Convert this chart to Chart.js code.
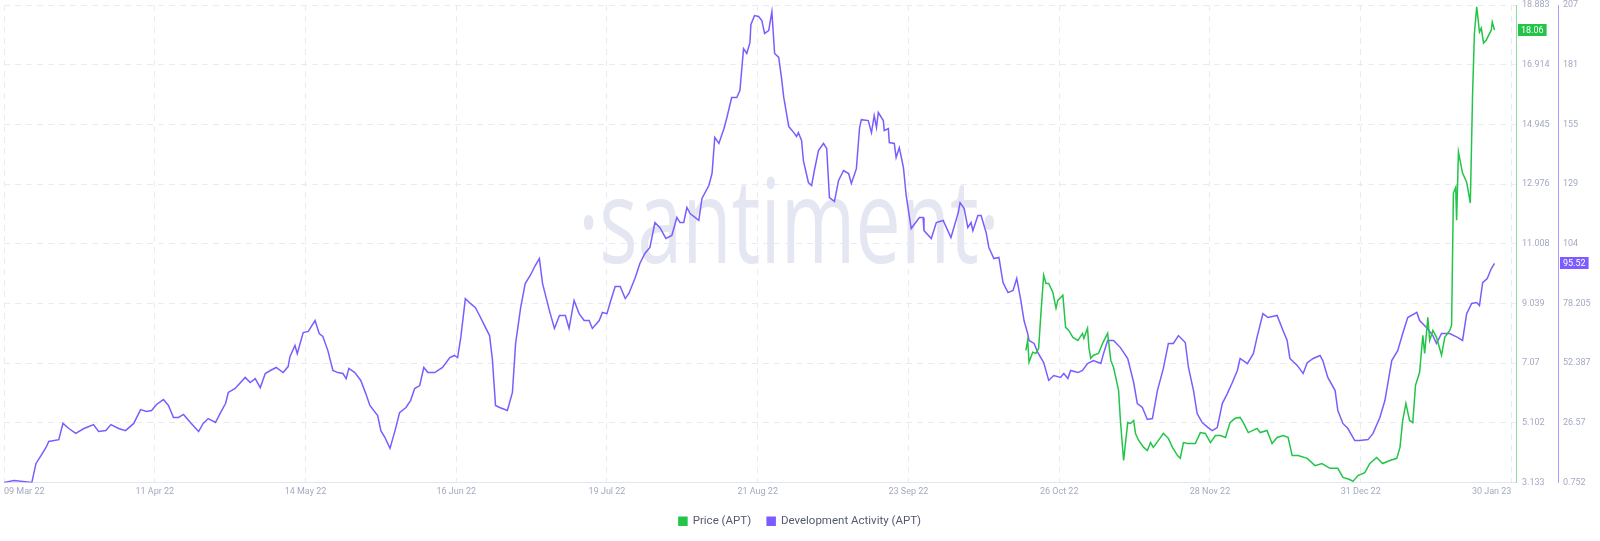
<!DOCTYPE html>
<html>
<head>
<meta charset="utf-8">
<script src="https://cdn.jsdelivr.net/npm/chart.js@4.4.0/dist/chart.umd.min.js"></script>
<style>
html,body{margin:0;padding:0;background:#ffffff;}
#wrap{width:1600px;height:541px;}
</style>
</head>
<body>
<div id="wrap"><canvas id="c" width="1600" height="541"></canvas></div>
<script>
// X axis: days since 09 Mar 22
const xTickDays = [0, 33, 66, 99, 132, 165, 198, 231, 264, 297, 330];
const xTickLabels = ['09 Mar 22','11 Apr 22','14 May 22','16 Jun 22','19 Jul 22','21 Aug 22','23 Sep 22','26 Oct 22','28 Nov 22','31 Dec 22','30 Jan 23'];

const priceTickValues = [3.133, 5.102, 7.07, 9.039, 11.008, 12.976, 14.945, 16.914, 18.883];
const priceTickLabels = ['3.133','5.102','7.07','9.039','11.008','12.976','14.945','16.914','18.883'];
const devTickValues = [0.752, 26.57, 52.387, 78.205, 103.99, 129.84, 155.66, 181.47, 207.29];
const devTickLabels = ['0.752','26.57','52.387','78.205','104','129','155','181','207'];

// Development Activity (APT): [day, value]
const devActivity = [[0,0.8],[2.2,1.6],[6.1,0.8],[7.0,9.0],[8.1,12.4],[9.2,15.9],[9.8,18.5],[12.0,19.3],[12.9,26.3],[14.2,24.1],[15.7,22.0],[17.5,24.1],[18.6,25.0],[19.6,25.8],[20.7,22.8],[22.3,23.2],[23.4,25.8],[25.1,24.1],[26.6,23.2],[28.4,26.3],[29.9,32.3],[31.2,31.5],[32.3,31.9],[33.4,34.5],[34.9,36.6],[36.0,34.1],[37.1,28.9],[38.2,28.9],[39.3,30.2],[40.8,26.7],[42.6,22.8],[43.6,26.3],[44.7,28.4],[46.3,26.7],[47.4,31.0],[48.5,34.9],[49.1,39.7],[50.6,41.4],[52.8,46.2],[53.9,44.0],[55.0,45.7],[56.1,41.8],[57.2,47.9],[58.3,49.2],[59.6,50.5],[61.1,48.3],[62.2,50.9],[62.6,55.2],[63.7,60.0],[64.2,56.5],[65.5,65.6],[66.6,66.1],[68.1,70.8],[69.0,65.2],[69.8,63.9],[70.9,57.8],[72.0,49.2],[73.1,48.3],[74.2,47.9],[74.9,45.7],[75.5,50.1],[76.8,48.3],[78.1,44.9],[79.2,39.2],[80.1,34.1],[81.8,29.7],[82.5,23.2],[83.4,20.2],[84.5,15.5],[85.6,23.2],[86.6,31.0],[88.0,33.2],[89.0,36.2],[89.9,41.4],[91.0,42.7],[91.9,50.5],[92.8,48.3],[94.3,48.3],[96.0,50.5],[97.6,54.8],[98.6,55.7],[99.3,54.8],[100.0,63.5],[101.0,80.3],[102.1,78.2],[103.2,76.4],[104.1,73.0],[105.2,68.6],[106.3,64.3],[106.9,54.4],[107.6,34.1],[108.5,33.2],[110.2,31.9],[111.3,39.7],[112.0,60.9],[113.1,76.4],[114.1,86.8],[115.2,90.3],[116.3,94.6],[117.2,97.6],[117.9,86.8],[119.4,75.1],[120.5,67.4],[121.6,73.0],[122.9,73.0],[123.7,67.4],[124.8,79.5],[125.9,73.8],[127.0,70.8],[128.1,70.8],[128.8,67.4],[130.3,70.8],[131.0,74.3],[132.0,73.8],[132.7,78.6],[133.8,85.5],[134.9,85.5],[136.0,80.3],[136.8,82.5],[138.2,89.4],[139.2,95.5],[140.3,99.8],[141.4,102.4],[142.5,113.2],[143.6,111.0],[144.9,106.3],[146.2,107.6],[147.3,115.4],[148.0,113.2],[148.8,113.2],[149.5,119.7],[150.2,117.1],[152.1,114.1],[152.8,123.6],[154.3,129.2],[155.0,134.4],[155.6,150.0],[156.5,147.4],[157.6,153.8],[158.2,158.2],[159.3,167.3],[160.4,167.3],[161.1,170.3],[161.9,188.4],[162.6,186.3],[163.3,191.0],[163.5,198.8],[164.3,202.7],[165.2,202.3],[165.9,200.6],[166.5,195.0],[167.4,196.2],[168.1,204.4],[168.7,186.3],[169.6,184.6],[170.2,175.9],[170.7,167.3],[171.8,154.7],[172.9,152.1],[173.5,150.4],[173.9,152.1],[174.6,148.7],[175.0,140.0],[176.1,130.5],[176.8,129.2],[177.4,135.7],[178.3,144.3],[179.4,147.4],[180.1,145.2],[180.7,124.0],[181.8,122.3],[182.7,131.4],[183.8,135.7],[184.9,134.4],[185.5,130.1],[186.6,136.5],[187.3,154.3],[187.7,157.7],[189.2,157.3],[189.9,152.1],[190.5,159.5],[191.0,154.3],[191.4,160.8],[192.5,157.3],[192.7,153.0],[193.6,153.8],[193.8,147.8],[194.9,147.4],[195.3,141.3],[196.0,145.6],[196.9,137.0],[197.5,124.9],[198.6,110.6],[200.4,115.4],[201.2,115.4],[201.4,109.7],[203.0,106.3],[204.1,113.2],[205.6,114.1],[207.3,106.7],[208.9,117.5],[209.3,121.8],[210.2,119.2],[211.0,111.0],[211.7,113.2],[212.1,109.7],[213.2,116.2],[213.9,116.2],[215.0,108.9],[215.6,102.4],[216.7,97.6],[217.8,98.1],[218.7,87.2],[219.8,82.9],[220.9,83.8],[221.7,89.0],[222.6,79.5],[223.3,70.8],[224.1,65.2],[224.4,62.2],[225.5,60.9],[226.3,57.0],[227.6,52.6],[228.7,44.9],[229.8,47.0],[231.3,46.2],[232.0,47.9],[232.9,45.7],[233.5,49.2],[235.1,48.3],[236.1,49.2],[237.2,52.2],[238.5,53.5],[240.1,52.2],[240.7,56.5],[241.6,62.2],[242.9,62.2],[244.4,59.1],[246.0,54.4],[247.3,44.0],[248.1,34.9],[249.2,33.2],[250.3,28.0],[251.4,28.4],[252.5,40.5],[253.8,50.1],[254.9,60.9],[256.0,60.9],[257.1,64.3],[258.6,61.3],[259.3,50.5],[260.4,40.5],[261.2,30.6],[262.3,26.7],[263.6,24.5],[264.5,23.2],[265.6,24.5],[266.7,34.9],[267.8,39.2],[268.9,44.0],[270.0,49.2],[270.6,54.4],[272.2,52.2],[273.5,56.5],[274.3,63.5],[275.6,73.8],[276.7,72.1],[278.7,73.0],[280.0,66.5],[280.9,62.2],[281.5,54.4],[283.1,51.4],[284.4,47.9],[285.3,52.6],[286.6,54.4],[288.1,55.7],[288.7,53.5],[289.8,46.2],[291.4,40.5],[292.0,31.9],[293.1,26.3],[294.2,24.1],[295.7,18.9],[296.8,18.9],[298.6,19.3],[299.7,22.0],[301.2,28.9],[302.3,36.2],[303.8,53.5],[305.1,57.8],[306.2,65.2],[307.3,72.1],[309.3,74.3],[309.9,70.8],[311.4,67.8],[312.8,64.3],[313.6,60.9],[314.7,65.2],[316.5,65.2],[318.2,63.5],[319.3,62.2],[320.2,73.8],[321.3,78.2],[322.4,78.6],[323.0,77.3],[323.7,87.2],[324.7,89.0],[325.6,93.3],[326.3,95.52]];

// Price (APT): [day, value]
const priceApt = [[223.7,7.49],[224.1,7.82],[224.4,7.10],[225.2,7.43],[225.9,7.39],[226.5,7.56],[227.0,8.71],[227.6,9.97],[228.1,9.70],[228.7,9.70],[229.6,9.41],[230.3,8.88],[230.7,9.14],[231.8,9.31],[232.4,8.25],[233.1,8.15],[234.0,7.92],[235.1,7.82],[236.1,8.05],[236.4,7.89],[237.2,8.22],[237.5,7.59],[237.9,7.23],[238.5,7.33],[239.6,7.39],[240.5,7.72],[241.6,8.05],[242.3,7.16],[242.9,6.93],[244.0,6.17],[244.4,5.18],[245.1,3.86],[246.0,5.11],[246.6,5.08],[247.3,5.18],[247.7,4.75],[248.4,4.52],[249.5,4.29],[250.3,4.19],[251.0,4.45],[251.6,4.29],[253.2,4.62],[253.8,4.75],[254.9,4.59],[255.8,4.29],[256.9,4.02],[257.5,3.93],[258.2,4.45],[259.1,4.42],[260.8,4.42],[261.9,4.78],[263.0,4.75],[264.1,4.45],[265.2,4.68],[266.3,4.68],[267.4,4.62],[268.4,5.11],[269.5,5.25],[270.6,5.28],[271.3,5.11],[272.4,4.78],[274.3,4.92],[275.0,4.78],[276.5,4.85],[277.6,4.42],[278.7,4.62],[280.0,4.68],[281.1,4.62],[282.0,4.02],[283.3,4.02],[285.3,3.93],[287.0,3.69],[288.5,3.76],[290.3,3.60],[292.0,3.60],[293.1,3.30],[294.6,3.23],[295.3,3.17],[296.4,3.36],[297.9,3.46],[299.0,3.76],[300.5,3.96],[301.8,3.76],[303.4,3.86],[304.9,3.93],[305.6,4.29],[306.2,5.18],[306.9,5.74],[307.7,5.18],[308.4,5.11],[309.0,6.34],[309.9,6.77],[310.6,7.99],[311.0,7.39],[311.7,8.58],[312.1,7.82],[312.8,8.15],[313.6,7.92],[314.7,7.33],[315.4,7.92],[316.5,8.15],[316.9,8.32],[317.3,12.68],[317.8,12.87],[318.0,11.78],[318.4,14.03],[319.3,13.34],[320.2,13.04],[321.0,12.35],[321.5,15.98],[321.9,17.96],[322.4,18.82],[323.0,17.99],[323.4,18.12],[323.9,17.63],[324.5,17.73],[325.6,18.06],[325.8,18.32],[326.3,18.06]];

const GREEN = '#22c548';
const PURPLE = '#7c5cff';
const TICK_COLOR = '#a3a9c2';
const GRID_COLOR = '#e8eaf4';
const tickFont = {family: 'Roboto', size: 9};

const watermark = {
  id: 'watermark',
  beforeDatasetsDraw(chart) {
    const ctx = chart.ctx;
    ctx.save();
    ctx.font = '118px "Open Sans"';
    ctx.fillStyle = '#e4e6f2';
    ctx.textBaseline = 'alphabetic';
    const txt = '\u00B7santiment\u00B7';
    const w = ctx.measureText(txt).width;
    const left = 578, right = 1000;
    ctx.translate(left, 263);
    ctx.scale((right - left) / w, 1);
    ctx.fillText(txt, 0, 0);
    ctx.restore();
  }
};

const lastValueBoxes = {
  id: 'lastValueBoxes',
  afterDraw(chart) {
    const ctx = chart.ctx;
    const items = [
      {scale: chart.scales.yPrice, v: priceApt[priceApt.length - 1][1], color: GREEN},
      {scale: chart.scales.yDev, v: devActivity[devActivity.length - 1][1], color: PURPLE}
    ];
    ctx.save();
    ctx.font = '9px Roboto';
    ctx.textBaseline = 'middle';
    items.forEach(it => {
      const y = it.scale.getPixelForValue(it.v);
      const txt = it.v.toFixed(2);
      const tw = ctx.measureText(txt).width;
      const x = it.scale.left + 2;
      ctx.fillStyle = it.color;
      ctx.fillRect(x, Math.round(y - 6), tw + 6, 12);
      ctx.fillStyle = '#ffffff';
      ctx.fillText(txt, x + 3, y + 0.5);
    });
    ctx.restore();
  }
};

new Chart(document.getElementById('c'), {
  type: 'line',
  data: {
    datasets: [
      {
        label: 'Price (APT)',
        data: priceApt.map(p => ({x: p[0], y: p[1]})),
        yAxisID: 'yPrice',
        borderColor: GREEN,
        backgroundColor: GREEN,
        borderWidth: 1.5,
        pointRadius: 0,
        tension: 0
      },
      {
        label: 'Development Activity (APT)',
        data: devActivity.map(p => ({x: p[0], y: p[1]})),
        yAxisID: 'yDev',
        borderColor: PURPLE,
        backgroundColor: PURPLE,
        borderWidth: 1.5,
        pointRadius: 0,
        tension: 0
      }
    ]
  },
  options: {
    responsive: false,
    animation: false,
    devicePixelRatio: 1,
    layout: {padding: {top: 5, left: 0, right: 0, bottom: 4}},
    plugins: {
      legend: {
        position: 'bottom',
        labels: {
          boxWidth: 8, boxHeight: 8, padding: 16,
          color: '#555a70',
          font: {family: 'Roboto', size: 11.5}
        }
      },
      tooltip: {enabled: false}
    },
    scales: {
      x: {
        type: 'linear',
        min: 0, max: 331,
        afterBuildTicks: s => { s.ticks = xTickDays.map(v => ({value: v})); },
        afterFit: s => { s.height = 17; },
        ticks: {
          autoSkip: false, maxRotation: 0, align: 'inner', padding: 4,
          color: TICK_COLOR, font: tickFont,
          callback: (v, i) => xTickLabels[i]
        },
        grid: {color: GRID_COLOR, drawTicks: false},
        border: {color: '#e3e6f0', dash: [6, 5]}
      },
      yPrice: {
        type: 'linear',
        position: 'right',
        min: 3.133, max: 18.883,
        afterBuildTicks: s => { s.ticks = priceTickValues.map(v => ({value: v})); },
        afterFit: s => { s.width = 42; s.paddingTop = 0; },
        ticks: {
          padding: 6, color: TICK_COLOR, font: tickFont,
          callback: (v, i) => priceTickLabels[i]
        },
        grid: {color: GRID_COLOR, drawTicks: false},
        border: {color: '#8edc9d', dash: [6, 5]}
      },
      yDev: {
        type: 'linear',
        position: 'right',
        min: 0.752, max: 207.29,
        afterBuildTicks: s => { s.ticks = devTickValues.map(v => ({value: v})); },
        afterFit: s => { s.width = 42; s.paddingTop = 0; },
        ticks: {
          padding: 5, color: TICK_COLOR, font: tickFont,
          callback: (v, i) => devTickLabels[i]
        },
        grid: {drawOnChartArea: false, drawTicks: false},
        border: {color: '#ab9cff'}
      }
    }
  },
  plugins: [watermark, lastValueBoxes]
});
</script>
</body>
</html>
